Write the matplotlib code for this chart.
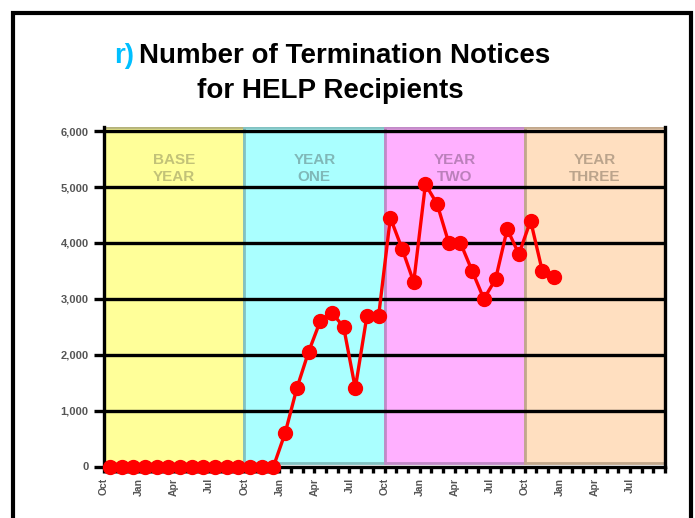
import matplotlib
matplotlib.use("Agg")
import matplotlib.pyplot as plt
from matplotlib.patches import Rectangle

plt.rcParams['font.family'] = ['Liberation Sans', 'DejaVu Sans']

# monthly values, Oct of base year onwards
notices = [0, 0, 0, 0, 0, 0, 0, 0, 0, 0, 0, 0, 0, 0, 0,
           600, 1400, 2050, 2600, 2750, 2500, 1400, 2700, 2700,
           4450, 3900, 3300, 5050, 4700, 4000, 4000, 3500, 3000, 3350,
           4250, 3800, 4400, 3500, 3400]

periods = ["BASE\nYEAR", "YEAR\nONE", "YEAR\nTWO", "YEAR\nTHREE"]
period_colors = ["#FFFF99", "#AAFFFF", "#FFB0FF", "#FFDFC0"]
period_edges = ["#B4B27A", "#82C2C2", "#C28AC8", "#C2A88C"]
period_text = ["#C2C278", "#80B8B8", "#BB80BB", "#BBA48C"]

y_ticks = [0, 1000, 2000, 3000, 4000, 5000, 6000]
y_labels = ["0", "1,000", "2,000", "3,000", "4,000", "5,000", "6,000"]
quarter_labels = ["Oct", "Jan", "Apr", "Jul"] * 4

fig = plt.figure(figsize=(6.95, 5.18), dpi=100)
ax = fig.add_axes([104 / 695, 1 - 466.5 / 518, 561 / 695, 340 / 518])
ax.set_xlim(0, 48)
ax.set_ylim(0, 6085)

# year bands
for i, (name, fc, ec, tc) in enumerate(zip(periods, period_colors, period_edges, period_text)):
    ax.add_patch(Rectangle((i * 12, 70), 12, 6010, facecolor=fc, edgecolor=ec,
                           linewidth=2, zorder=0))
    ax.text(i * 12 + 6, 5330, name, ha='center', va='center', fontsize=11,
            fontweight='bold', color=tc, linespacing=1.25, zorder=1)

for v in y_ticks[1:]:
    ax.axhline(v, color='black', linewidth=2.4, zorder=2)

xs = [i + 0.5 for i in range(len(notices))]
ax.plot(xs, notices, color='red', linewidth=2.4, marker='o', markersize=10,
        zorder=5, clip_on=False)

ax.spines['top'].set_visible(False)
for s in ['left', 'right', 'bottom']:
    ax.spines[s].set_linewidth(2.4)
    ax.spines[s].set_zorder(3)

ax.set_yticks(y_ticks)
ax.set_yticklabels(y_labels, fontsize=8, color='#555555', fontweight='bold')
ax.tick_params(axis='y', length=7, width=2.4, pad=4)

ax.set_xticks(range(0, 48, 3))
ax.set_xticklabels(quarter_labels, rotation=90, fontsize=7.5, color='#555555',
                   fontweight='bold', va='top')
ax.set_xticks(range(0, 49), minor=True)
ax.tick_params(axis='x', which='both', length=4, width=2.4, pad=4)

fig.text(134 / 695, 1 - 56 / 518, "r)", ha='right', va='center', fontsize=20,
         fontweight='bold', color='#00BFFF')
fig.text(139 / 695, 1 - 56 / 518, "Number of Termination Notices", ha='left',
         va='center', fontsize=20, fontweight='bold', color='black')
fig.text(330 / 695, 1 - 91 / 518, "for HELP Recipients", ha='center',
         va='center', fontsize=20, fontweight='bold', color='black')

# outer frame
fig.patches.append(Rectangle((13.5 / 695, -0.1), 677.5 / 695, 1.1 - 13 / 518,
                             transform=fig.transFigure, fill=False,
                             edgecolor='black', linewidth=3))

fig.savefig("out.png", dpi=100)
